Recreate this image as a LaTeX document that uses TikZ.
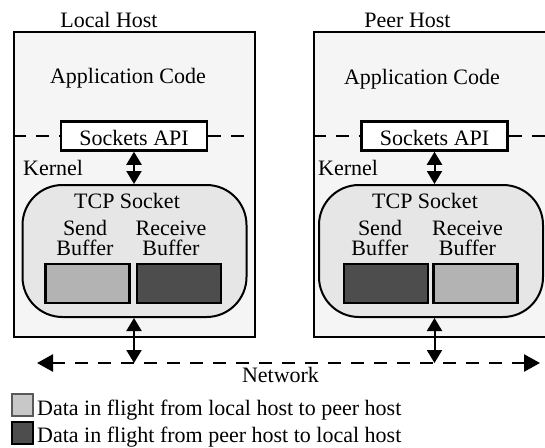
\documentclass[tikz,border=0pt]{standalone}
\usepackage{fontspec}
\setmainfont{Liberation Serif}
\usetikzlibrary{positioning,arrows.meta}
\definecolor{hostgray}{HTML}{F5F5F5}
\definecolor{sockgray}{HTML}{E6E6E6}
\definecolor{lightbuf}{HTML}{B3B3B3}
\definecolor{darkbuf}{HTML}{4D4D4D}
\definecolor{legendlight}{HTML}{C8C8C8}

\begin{document}
\begin{tikzpicture}[x=1pt, y=-1pt,
					font=\fontsize{22}{20}\selectfont,
					hostbox/.style={rectangle, draw=black, line width=2.5pt, fill=hostgray, minimum width=241pt, minimum height=305pt, inner sep=0pt},
					apibox/.style={rectangle, draw=black, line width=2.5pt, fill=white, minimum width=146pt, minimum height=29pt, inner sep=0pt},
					sockbox/.style={rectangle, rounded corners=40pt, draw=black, line width=2pt, fill=sockgray, minimum width=224pt, minimum height=132pt, inner sep=0pt},
					lightbox/.style={rectangle, draw=black, line width=2.5pt, fill=lightbuf, minimum width=84pt, minimum height=39pt, inner sep=0pt},
					darkbox/.style={lightbox, fill=darkbuf},
					txt/.style={inner sep=0pt, anchor=base},
					buftxt/.style={inner sep=0pt, align=center},
					dashline/.style={line width=2.5pt, dash pattern=on 13pt off 10pt},
					dblarrow/.style={line width=2pt, {Triangle[width=15pt,length=13pt]}-{Triangle[width=15pt,length=13pt]}}
				]
				\clip (0,0) rectangle (545,447);
				% hosts
				\node[hostbox] (localhost) at (134.5,184.5) {};
				\node[hostbox] (peerhost) at (434.5,184.5) {};
				\node[txt] (localtitle) at (109,27) {Local Host};
				\node[txt] (peertitle) at (407.5,27) {Peer Host};
				\node[txt] (localapp) at (128,83) {Application Code};
				\node[txt] (peerapp) at (422,84) {Application Code};
				% sockets api
				\node[apibox] (localapi) at (134,136) {};
				\node[apibox] (peerapi) at (434.5,136) {};
				\draw[dashline] (localhost.west |- localapi.west) -- (localapi.west);
				\draw[dashline] (localapi.east) -- (localhost.east |- localapi.east);
				\draw[dashline] (peerhost.west |- peerapi.west) -- (peerapi.west);
				\draw[dashline] (peerapi.east) -- (peerhost.east |- peerapi.east);
				\node[apibox] at (localapi) {};
				\node[apibox] at (peerapi) {};
				\node[txt] (localapitxt) at (134,145) {Sockets API};
				\node[txt] (peerapitxt) at (434.5,145) {Sockets API};
				\node[txt, anchor=base west] (localkernel) at (23,175) {Kernel};
				\node[txt, anchor=base west] (peerkernel) at (318,175) {Kernel};
				% tcp sockets
				\node[sockbox] (localtcp) at (134.5,251) {};
				\node[sockbox] (peertcp) at (431,251) {};
				\node[txt] (localtcptxt) at (127,208) {TCP Socket};
				\node[txt] (peertcptxt) at (425,208) {TCP Socket};
				\node[buftxt] (localsendtxt) at (85,238) {Send\\Buffer};
				\node[buftxt] (localrecvtxt) at (171,238) {Receive\\Buffer};
				\node[buftxt] (peersendtxt) at (380,238) {Send\\Buffer};
				\node[buftxt] (peerrecvtxt) at (467.5,238) {Receive\\Buffer};
				\node[lightbox] (localsend) at (87.5,283.5) {};
				\node[darkbox] (localrecv) at (179,283.5) {};
				\node[darkbox] (peersend) at (386,283.5) {};
				\node[lightbox] (peerrecv) at (475.5,283.5) {};
				% network
				\coordinate (netwest) at (37,363);
				\coordinate (neteast) at (540,363);
				\draw[dashline, {Triangle[width=17pt,length=16pt]}-{Triangle[width=17pt,length=16pt]}] (netwest) -- (neteast);
				\node[txt] (nettxt) at (280.5,382) {Network};
				\begin{scope}[dblarrow]
				\draw (localapi.south) -- (localapi.south |- localtcp.north);
				\draw (peerapi.south) -- (peerapi.south |- peertcp.north);
				\draw (localtcp.south -| localapi) -- (localapi |- netwest);
				\draw (peertcp.south -| peerapi) -- (peerapi |- netwest);
				\end{scope}
				% legend
				\node[rectangle, draw=black!65, line width=2pt, fill=legendlight, minimum width=21pt, minimum height=22pt, inner sep=0pt] (lgdlocal) at (22.5,404.5) {};
				\node[rectangle, draw=black, line width=2pt, fill=darkbuf, minimum width=21pt, minimum height=22pt, inner sep=0pt] (lgdpeer) at (22.5,433) {};
				\node[txt, anchor=base west] (lgdlocaltxt) at (37,415) {Data in flight from local host to peer host};
				\node[txt, anchor=base west] (lgdpeertxt) at (37,442) {Data in flight from peer host to local host};
				\end{tikzpicture}
\end{document}
